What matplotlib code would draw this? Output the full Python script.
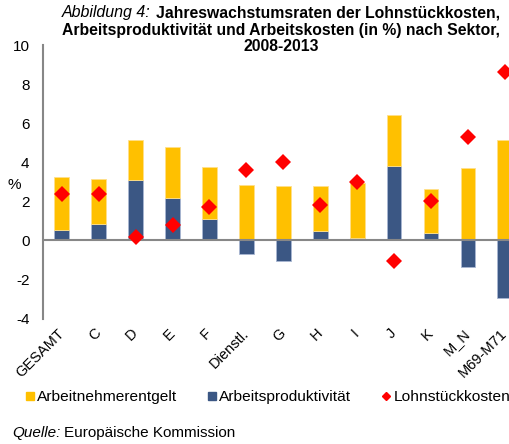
import numpy as np
import matplotlib
matplotlib.use("Agg")
import matplotlib.pyplot as plt
from matplotlib.lines import Line2D

plt.rcParams['font.family'] = ['Liberation Sans', 'DejaVu Sans']

# Sectors and annual growth rates 2008-2013 (%)
sektoren = ['GESAMT', 'C', 'D', 'E', 'F', 'Dienstl.', 'G', 'H', 'I', 'J', 'K',
            'M_N', 'M69-M71']
# stacked segment on top of productivity (Excel-style stacking)
arbeitnehmerentgelt = [2.74, 2.34, 2.06, 2.61, 2.65, 2.82, 2.80, 2.27, 2.81,
                       2.61, 2.26, 3.71, 5.13]
arbeitsproduktivitaet = [0.51, 0.82, 3.08, 2.19, 1.09, -0.68, -1.04, 0.50, 0.13,
                         3.83, 0.39, -1.36, -2.96]
lohnstueckkosten = [2.35, 2.38, 0.17, 0.78, 1.70, 3.62, 4.00, 1.82, 2.97,
                    -1.06, 1.99, 5.29, 8.60]
y_ticks = [-4, -2, 0, 2, 4, 6, 8, 10]

GELB = '#FFC000'
BLAU = '#3B5784'
ROT = '#FF0000'
GRAU = '#878787'

W, H = 509, 444
fig = plt.figure(figsize=(W / 100, H / 100), dpi=100)
# axes run past the right edge of the figure, last bar is cut off
ax = fig.add_axes([43.3 / W, 1 - 318.5 / H, 480 / W, 273.5 / H])

x = np.arange(len(sektoren))
prod = np.array(arbeitsproduktivitaet)
basis = np.clip(prod, 0, None)

ax.bar(x, prod, width=0.4, color=BLAU, edgecolor='#A9B7D2', linewidth=0.6, zorder=2)
ax.bar(x, arbeitnehmerentgelt, bottom=basis, width=0.4, color=GELB,
       edgecolor='#FFE08A', linewidth=0.6, zorder=2)
ax.axhline(0, color=GRAU, linewidth=1.5, zorder=3)
ax.plot(x, lohnstueckkosten, linestyle='none', marker='D', markersize=8.3,
        color=ROT, markeredgewidth=0, zorder=4, clip_on=False)

ax.set_xlim(-0.5, 12.5)
ax.set_ylim(-4, 10)
ax.set_yticks(y_ticks)
ax.set_yticklabels([str(v) for v in y_ticks])
ax.set_xticks(x)
ax.set_xticklabels(sektoren, rotation=45, ha='right', va='center',
                   rotation_mode='anchor')

for side in ['top', 'right', 'bottom']:
    ax.spines[side].set_visible(False)
ax.spines['left'].set_color(GRAU)
ax.spines['left'].set_linewidth(1.5)
ax.tick_params(axis='y', length=0, pad=10, labelsize=11)
ax.tick_params(axis='x', length=0, pad=9, labelsize=10.5)

fig.text(14 / W, 1 - 185 / H, '%', fontsize=11, ha='center', va='center')

# title
fig.text(62 / W, 1 - 13 / H, 'Abbildung 4:', fontsize=11.5, style='italic',
         ha='left', va='center')
fig.text(500 / W, 1 - 13 / H, 'Jahreswachstumsraten der Lohnstückkosten,',
         fontsize=11.3, fontweight='bold', ha='right', va='center')
fig.text(281 / W, 1 - 30 / H,
         'Arbeitsproduktivität und Arbeitskosten (in %) nach Sektor,',
         fontsize=11.3, fontweight='bold', ha='center', va='center')
fig.text(281 / W, 1 - 46 / H, '2008-2013', fontsize=11.3, fontweight='bold',
         ha='center', va='center')

# legend
handles = [
    Line2D([], [], linestyle='none', marker='s', markersize=6, color=GELB),
    Line2D([], [], linestyle='none', marker='s', markersize=6, color=BLAU),
    Line2D([], [], linestyle='none', marker='D', markersize=4.5, color=ROT),
]
fig.legend(handles, ['Arbeitnehmerentgelt', 'Arbeitsproduktivität', 'Lohnstückkosten'],
           loc='center left', bbox_to_anchor=(25 / W, 1 - 397 / H), ncol=3,
           frameon=False, fontsize=11.15, handlelength=0.7, handletextpad=0.1,
           columnspacing=1.9, borderpad=0, borderaxespad=0)

# source
fig.text(12 / W, 1 - 433 / H, 'Quelle:', fontsize=11, style='italic',
         ha='left', va='center')
fig.text(64 / W, 1 - 433 / H, 'Europäische Kommission', fontsize=11,
         ha='left', va='center')

fig.savefig('out.png', dpi=100)
